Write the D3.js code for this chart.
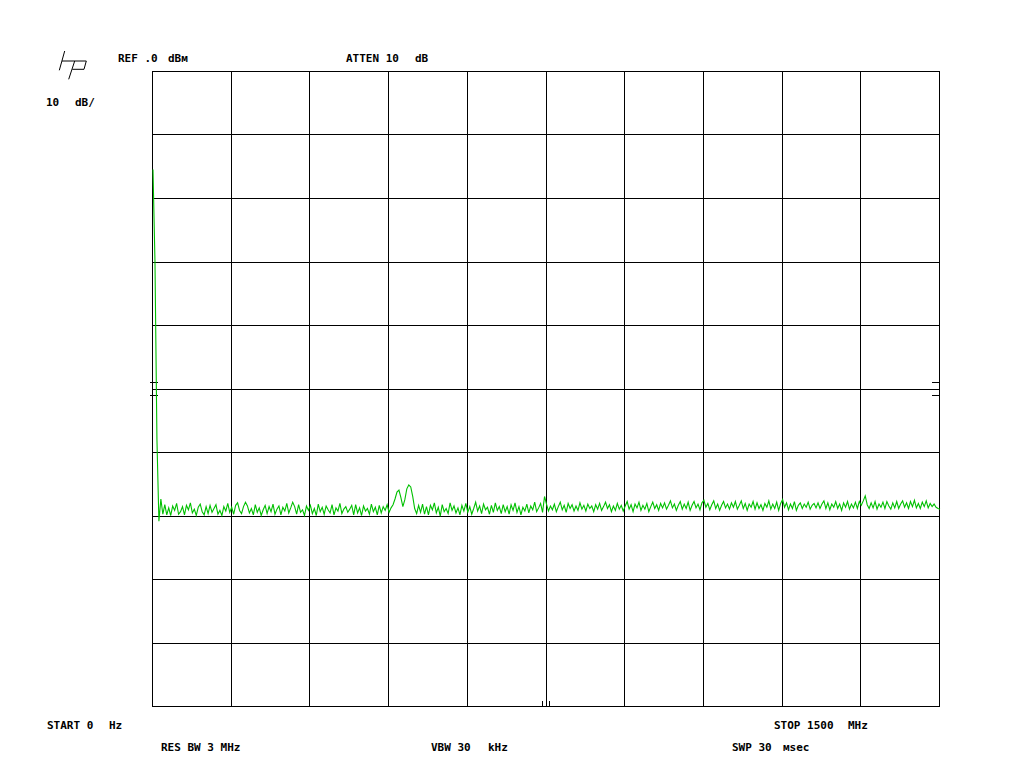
<!DOCTYPE html>
<html>
<head>
<meta charset="utf-8">
<script src="https://cdn.jsdelivr.net/npm/d3@7"></script>
<style>
  html, body { margin: 0; padding: 0; background: #ffffff; }
  svg { display: block; }
  text { font-family: "DejaVu Sans Mono", "Liberation Mono", monospace; font-weight: bold; font-size: 11px; fill: #000; }
</style>
</head>
<body>
<svg id="chart" width="1024" height="768"></svg>
<script>
// ---- data ----
const startMHz = 0;
const stopMHz = 1500;
const refLevelDbm = 0;
const dbPerDiv = 10;
const numDivs = 10;

// 401 sweep points, dBm
const traceDbm = [
  -15.5, -30.0, -58.0, -70.9, -67.4, -69.8, -68.3, -69.9, -68.8, -70.0, -68.5, -69.2, -68.1, -69.8, -69.4, -68.6, -69.9, -68.4, -69.1, -68.0,
  -69.6, -69.0, -70.0, -68.7, -68.2, -69.4, -69.9, -68.6, -69.7, -68.4, -69.5, -68.9, -68.3, -69.8, -69.2, -70.0, -68.6, -69.3, -68.1, -69.5,
  -68.7, -69.8, -68.4, -68.0, -69.2, -69.7, -68.6, -67.9, -68.5, -69.6, -68.9, -69.9, -68.3, -69.5, -68.8, -70.0, -69.1, -68.4, -69.7, -68.6,
  -69.4, -68.2, -69.8, -69.0, -68.5, -69.9, -68.7, -69.3, -68.1, -69.6, -68.8, -67.9, -68.6, -69.8, -68.3, -69.5, -69.1, -70.0, -68.5, -69.2,
  -68.4, -69.7, -68.9, -70.0, -68.2, -69.4, -68.7, -69.8, -68.5, -69.1, -69.6, -68.3, -69.9, -68.8, -69.3, -68.1, -69.7, -69.0, -68.6, -69.5,
  -69.0, -68.4, -69.9, -68.3, -69.6, -68.8, -70.0, -68.5, -69.3, -68.9, -69.8, -68.2, -69.4, -68.7, -69.9, -68.4, -69.6, -68.6, -69.2, -68.3,
  -69.5, -68.8, -68.3, -67.4, -66.3, -66.0, -67.2, -68.6, -67.5, -65.8, -65.2, -65.5, -67.0, -68.9, -69.7, -68.4, -69.5, -68.2, -69.8, -68.6,
  -69.9, -68.4, -69.1, -68.0, -69.6, -68.7, -70.1, -68.3, -69.4, -68.9, -69.7, -68.0, -69.2, -68.5, -69.6, -68.8, -69.9, -68.4, -69.3, -68.1,
  -69.5, -68.6, -69.8, -68.9, -67.9, -69.3, -68.5, -69.7, -68.2, -69.1, -68.7, -69.8, -68.4, -69.5, -68.0, -69.2, -68.6, -69.7, -68.3, -69.4,
  -68.6, -69.8, -68.3, -69.2, -68.0, -69.5, -68.6, -69.9, -68.7, -69.3, -68.2, -69.6, -68.5, -69.1, -67.9, -69.4, -68.8, -68.1, -69.5, -67.0,
  -68.2, -69.3, -68.5, -69.1, -68.2, -69.4, -68.6, -67.9, -69.1, -68.4, -69.5, -68.1, -68.9, -68.3, -69.3, -68.5, -69.2, -68.0, -69.0, -68.4,
  -69.3, -68.2, -68.9, -68.5, -69.4, -68.3, -69.0, -68.1, -69.2, -68.6, -67.9, -68.9, -68.3, -69.4, -68.5, -69.2, -68.1, -69.0, -68.4, -69.3,
  -68.5, -67.8, -69.0, -68.3, -69.4, -68.2, -68.8, -67.9, -69.2, -68.4, -69.0, -68.1, -69.4, -68.6, -67.9, -68.9, -68.3, -69.2, -68.1, -68.8,
  -68.0, -69.0, -68.4, -67.7, -68.8, -68.2, -69.2, -68.4, -67.8, -69.0, -68.2, -68.9, -67.9, -69.2, -68.4, -67.8, -68.8, -68.2, -69.1, -68.0,
  -67.6, -68.7, -68.1, -69.1, -68.3, -67.7, -68.9, -68.2, -69.2, -68.4, -67.8, -68.8, -68.2, -69.0, -68.0, -68.7, -67.8, -69.0, -68.4, -67.7,
  -68.9, -68.1, -69.2, -68.2, -68.7, -67.8, -69.0, -68.0, -68.9, -68.3, -69.2, -68.1, -68.7, -67.7, -69.0, -68.2, -68.9, -67.9, -69.2, -68.1,
  -67.5, -68.7, -68.0, -69.1, -68.2, -68.9, -67.8, -69.2, -68.4, -68.0, -68.9, -68.2, -68.7, -67.9, -69.0, -68.4, -68.1, -68.8, -68.0, -68.9,
  -68.2, -67.7, -68.9, -68.0, -69.1, -68.2, -68.7, -67.8, -68.9, -68.2, -69.2, -68.0, -68.7, -67.8, -69.0, -68.2, -68.8, -67.9, -68.9, -67.8,
  -68.4, -67.7, -66.9, -68.3, -68.9, -68.0, -68.8, -67.8, -69.0, -68.2, -68.7, -67.9, -68.9, -67.8, -68.5, -69.0, -68.0, -68.8, -67.8, -68.9,
  -68.2, -67.7, -68.7, -68.0, -68.9, -67.8, -68.6, -67.6, -68.8, -68.1, -68.9, -67.9, -68.6, -67.7, -68.8, -68.1, -68.6, -68.2, -68.7, -68.9, -69.0
];

// annotation texts
const topLabels = [
  { t: "REF .0", x: 118, y: 62 }, { t: "dBм", x: 168, y: 62 },
  { t: "ATTEN 10", x: 346, y: 62 }, { t: "dB", x: 415, y: 62 },
  { t: "10", x: 46, y: 106 }, { t: "dB/", x: 75, y: 106 }
];
const bottomLabels = [
  { t: "START 0", x: 47, y: 729 }, { t: "Hz", x: 109, y: 729 },
  { t: "STOP 1500", x: 774, y: 729 }, { t: "MHz", x: 848, y: 729 },
  { t: "RES BW 3 MHz", x: 161, y: 751 },
  { t: "VBW 30", x: 431, y: 751 }, { t: "kHz", x: 488, y: 751 },
  { t: "SWP 30", x: 732, y: 751 }, { t: "мsec", x: 783, y: 751 }
];

// ---- drawing ----
const svg = d3.select("#chart");
const L = 152, R = 939, T = 71, B = 706;

const x = d3.scaleLinear().domain([startMHz, stopMHz]).range([L, R]);
const y = d3.scaleLinear().domain([refLevelDbm - dbPerDiv * numDivs, refLevelDbm]).range([B, T]);

const step = (stopMHz - startMHz) / (traceDbm.length - 1);
const xTicks = d3.range(numDivs + 1).map(i => startMHz + i * (stopMHz - startMHz) / numDivs);
const yTicks = d3.range(numDivs + 1).map(i => refLevelDbm - i * dbPerDiv);

const grid = svg.append("g").attr("shape-rendering", "crispEdges").attr("stroke", "#000").attr("stroke-width", 1);

grid.selectAll("line.v").data(xTicks).join("line")
  .attr("x1", d => Math.round(x(d)) + 0.5).attr("x2", d => Math.round(x(d)) + 0.5)
  .attr("y1", T).attr("y2", B + 0.5);
grid.selectAll("line.h").data(yTicks).join("line")
  .attr("y1", d => Math.round(y(d)) + 0.5).attr("y2", d => Math.round(y(d)) + 0.5)
  .attr("x1", L).attr("x2", R + 1);

// centre markers
const midDb = refLevelDbm - dbPerDiv * numDivs / 2;
const midY = y(midDb);
const midX = x((startMHz + stopMHz) / 2);
[-6.5, 6.5].forEach(o => {
  const yy = Math.round(midY + o) + 0.5;
  grid.append("line").attr("x1", L - 2).attr("x2", L + 6).attr("y1", yy).attr("y2", yy);
  grid.append("line").attr("x1", R - 7).attr("x2", R + 1).attr("y1", yy).attr("y2", yy);
});
[-3.3, 3.3].forEach(o => {
  const xx = Math.round(midX + o) + 0.5;
  grid.append("line").attr("x1", xx).attr("x2", xx).attr("y1", B - 5).attr("y2", B);
});

// trace
const line = d3.line()
  .x((d, i) => x(startMHz + i * step) + 1)
  .y(d => y(d));
svg.append("path")
  .datum(traceDbm)
  .attr("d", line)
  .attr("fill", "none")
  .attr("stroke", "#00c000")
  .attr("stroke-width", 1.1)
  .attr("stroke-linejoin", "miter");

// hp logo
const logo = [
  [64.7, 51, 59.3, 70.3],
  [62, 61, 86.3, 61],
  [86.3, 61, 84, 69.3],
  [84, 69.3, 72.3, 69.3],
  [74.7, 61, 68.7, 79.3]
];
svg.append("g").selectAll("line").data(logo).join("line")
  .attr("x1", d => d[0]).attr("y1", d => d[1]).attr("x2", d => d[2]).attr("y2", d => d[3])
  .attr("stroke", "#000").attr("stroke-width", 1);

// labels
svg.append("g").selectAll("text").data(topLabels.concat(bottomLabels)).join("text")
  .attr("x", d => d.x).attr("y", d => d.y).text(d => d.t);
</script>
</body>
</html>
